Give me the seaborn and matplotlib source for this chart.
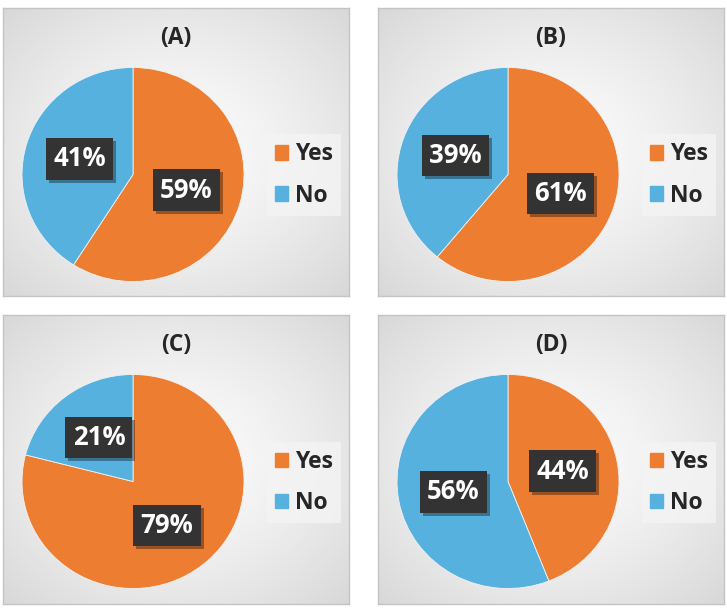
import numpy as np
import matplotlib
matplotlib.use("Agg")
import matplotlib.pyplot as plt
import matplotlib.patches as mpatches
import seaborn as sns

sns.set_style("white")
plt.rcParams['font.family'] = ['Open Sans', 'DejaVu Sans']

panel_titles = ["(A)", "(B)", "(C)", "(D)"]
categories = ["Yes", "No"]
yes_pct = [59, 61, 79, 44]
no_pct = [41, 39, 21, 56]

colors = ["#ED7D31", "#56B1DF"]

W, H = 727, 608
fig = plt.figure(figsize=(W / 100, H / 100), dpi=100)

# panel frames in pixels: x0, y0 (top), x1, y1
panels = [(3, 8, 349, 296), (378, 8, 724, 296),
          (3, 315, 349, 604), (378, 315, 724, 604)]

# radial gradient for panel background
yy, xx = np.mgrid[-1:1:200j, -1:1:240j]
rr = np.sqrt(xx ** 2 + yy ** 2) / np.sqrt(2)
grad = 0.985 - 0.14 * rr ** 1.4


def fig_rect(x0, y0, x1, y1):
    return [x0 / W, 1 - y1 / H, (x1 - x0) / W, (y1 - y0) / H]


label_texts = []
for i, (x0, y0, x1, y1) in enumerate(panels):
    bg = fig.add_axes(fig_rect(x0, y0, x1, y1))
    bg.imshow(grad, cmap="gray", vmin=0, vmax=1, aspect="auto",
              extent=[0, 1, 0, 1], interpolation="bicubic")
    bg.set_xticks([])
    bg.set_yticks([])
    for s in bg.spines.values():
        s.set_color("#c4c4c4")
        s.set_linewidth(1.0)

    bg.text(0.5, 0.895, panel_titles[i], transform=bg.transAxes,
            ha="center", va="center", fontsize=16.5, fontweight="bold",
            color="#262626")

    # pie axes (slightly wider than tall, as in the original)
    cx = x0 + 130
    cy = y0 + 166.5
    rx, ry = 111, 107
    ax = fig.add_axes(fig_rect(cx - rx, cy - ry, cx + rx, cy + ry))
    vals = [yes_pct[i], no_pct[i]]
    ax.pie(vals, colors=colors, startangle=90, counterclock=False,
           radius=1.0, wedgeprops=dict(linewidth=0.6, edgecolor="#f2f2f2"))
    start = 90
    for v in vals:
        mid = start - v * 3.6 / 2
        start -= v * 3.6
        tx = 0.5 * np.cos(np.radians(mid))
        ty = 0.52 * np.sin(np.radians(mid))
        t = ax.text(tx, ty, f"{v}%", ha="center", va="center",
                    fontsize=18.5, fontweight="bold", color="white", zorder=5,
                    bbox=dict(boxstyle="square,pad=0.28", fc="#333333", ec="none"))
        label_texts.append(t)
    ax.set_xlim(-1, 1)
    ax.set_ylim(-1, 1)
    ax.set_aspect("auto")

    handles = [mpatches.Patch(color=c, label=l) for c, l in zip(colors, categories)]
    leg = bg.legend(handles=handles, loc="center left",
                    bbox_to_anchor=(0.762, 0.42), frameon=True,
                    prop=dict(size=16.5, weight="bold"),
                    handlelength=0.6, handleheight=0.6,
                    handletextpad=0.3, labelspacing=0.75, borderpad=0.35,
                    borderaxespad=0, fancybox=False)
    leg.get_frame().set_facecolor("#f4f4f4")
    leg.get_frame().set_edgecolor("none")
    for t in leg.get_texts():
        t.set_color("#262626")

# soft drop shadow behind the label boxes
fig.canvas.draw()
renderer = fig.canvas.get_renderer()
for t in label_texts:
    bb = t.get_bbox_patch().get_window_extent(renderer)
    shadow = mpatches.Rectangle((bb.x0 + 3, bb.y0 - 3), bb.width, bb.height,
                                transform=None, fc="#000000", ec="none",
                                alpha=0.35, zorder=4)
    t.axes.add_artist(shadow)

fig.savefig("out.png", dpi=100, facecolor="white")
